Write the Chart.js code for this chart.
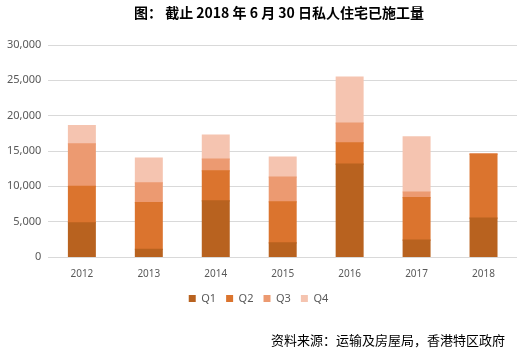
<!DOCTYPE html>
<html>
<head>
<meta charset="utf-8">
<script src="https://cdn.jsdelivr.net/npm/chart.js@4/dist/chart.umd.min.js"></script>
<style>
  html, body { margin: 0; padding: 0; background: #fff; }
  #wrap { position: relative; width: 523px; height: 356px; }
  #title { position: absolute; left: 0; width: 523px; top: 2px; text-align: center; padding-left: 35px; box-sizing: border-box;
           font-family: "Noto Sans CJK SC", "Noto Sans", sans-serif; font-weight: bold; font-size: 14px; color: #000; }
  #source { position: absolute; right: 18px; top: 330px; font-family: "Noto Sans CJK SC", sans-serif; font-size: 13px; color: #000; }
  canvas { position: absolute; left: 0; top: 0; }
</style>
</head>
<body>
<div id="wrap">
  <canvas id="c" width="523" height="356"></canvas>
  <div id="title">图： 截止 2018 年 6 月 30 日私人住宅已施工量</div>
  <div id="source">资料来源：运输及房屋局，香港特区政府</div>
</div>
<script>
const categories = ["2012", "2013", "2014", "2015", "2016", "2017", "2018"];
const q1 = [4850, 1100, 7950, 2000, 13150, 2400, 5500];
const q2 = [5150, 6600, 4250, 5800, 3000, 6000, 9050];
const q3 = [6000, 2800, 1650, 3500, 2800, 800, 0];
const q4 = [2600, 3500, 3400, 2850, 6500, 7800, 0];
const seriesNames = ["Q1", "Q2", "Q3", "Q4"];
const colors = ["#B8621F", "#DB742E", "#EC9A71", "#F5C4B0"];

const seriesData = [q1, q2, q3, q4];
new Chart(document.getElementById("c"), {
  type: "bar",
  data: {
    labels: categories,
    datasets: seriesData.map((d, i) => ({
      label: seriesNames[i],
      data: d,
      backgroundColor: colors[i],
      borderWidth: 0,
      inflateAmount: 0.6,
      categoryPercentage: 1,
      barPercentage: 0.4
    }))
  },
  options: {
    responsive: false,
    animation: false,
    layout: { padding: { top: 45, right: 6, bottom: 42, left: 0 } },
    plugins: {
      legend: {
        position: "bottom",
        labels: {
          boxWidth: 7, boxHeight: 7, padding: 10,
          color: "#595959",
          font: { family: "'Noto Sans', 'DejaVu Sans', sans-serif", size: 11 }
        }
      },
      tooltip: { enabled: false }
    },
    scales: {
      x: {
        stacked: true,
        grid: { display: false },
        border: { display: false },
        ticks: { color: "#595959", font: { family: "'Noto Sans', sans-serif", size: 10 } }
      },
      y: {
        stacked: true,
        min: 0, max: 30000,
        ticks: {
          stepSize: 5000,
          color: "#595959",
          padding: 7,
          font: { family: "'Noto Sans', sans-serif", size: 11 },
          callback: v => v.toLocaleString("en-US")
        },
        grid: { color: "#D9D9D9", drawTicks: false },
        border: { display: false }
      }
    }
  }
});
</script>
</body>
</html>
